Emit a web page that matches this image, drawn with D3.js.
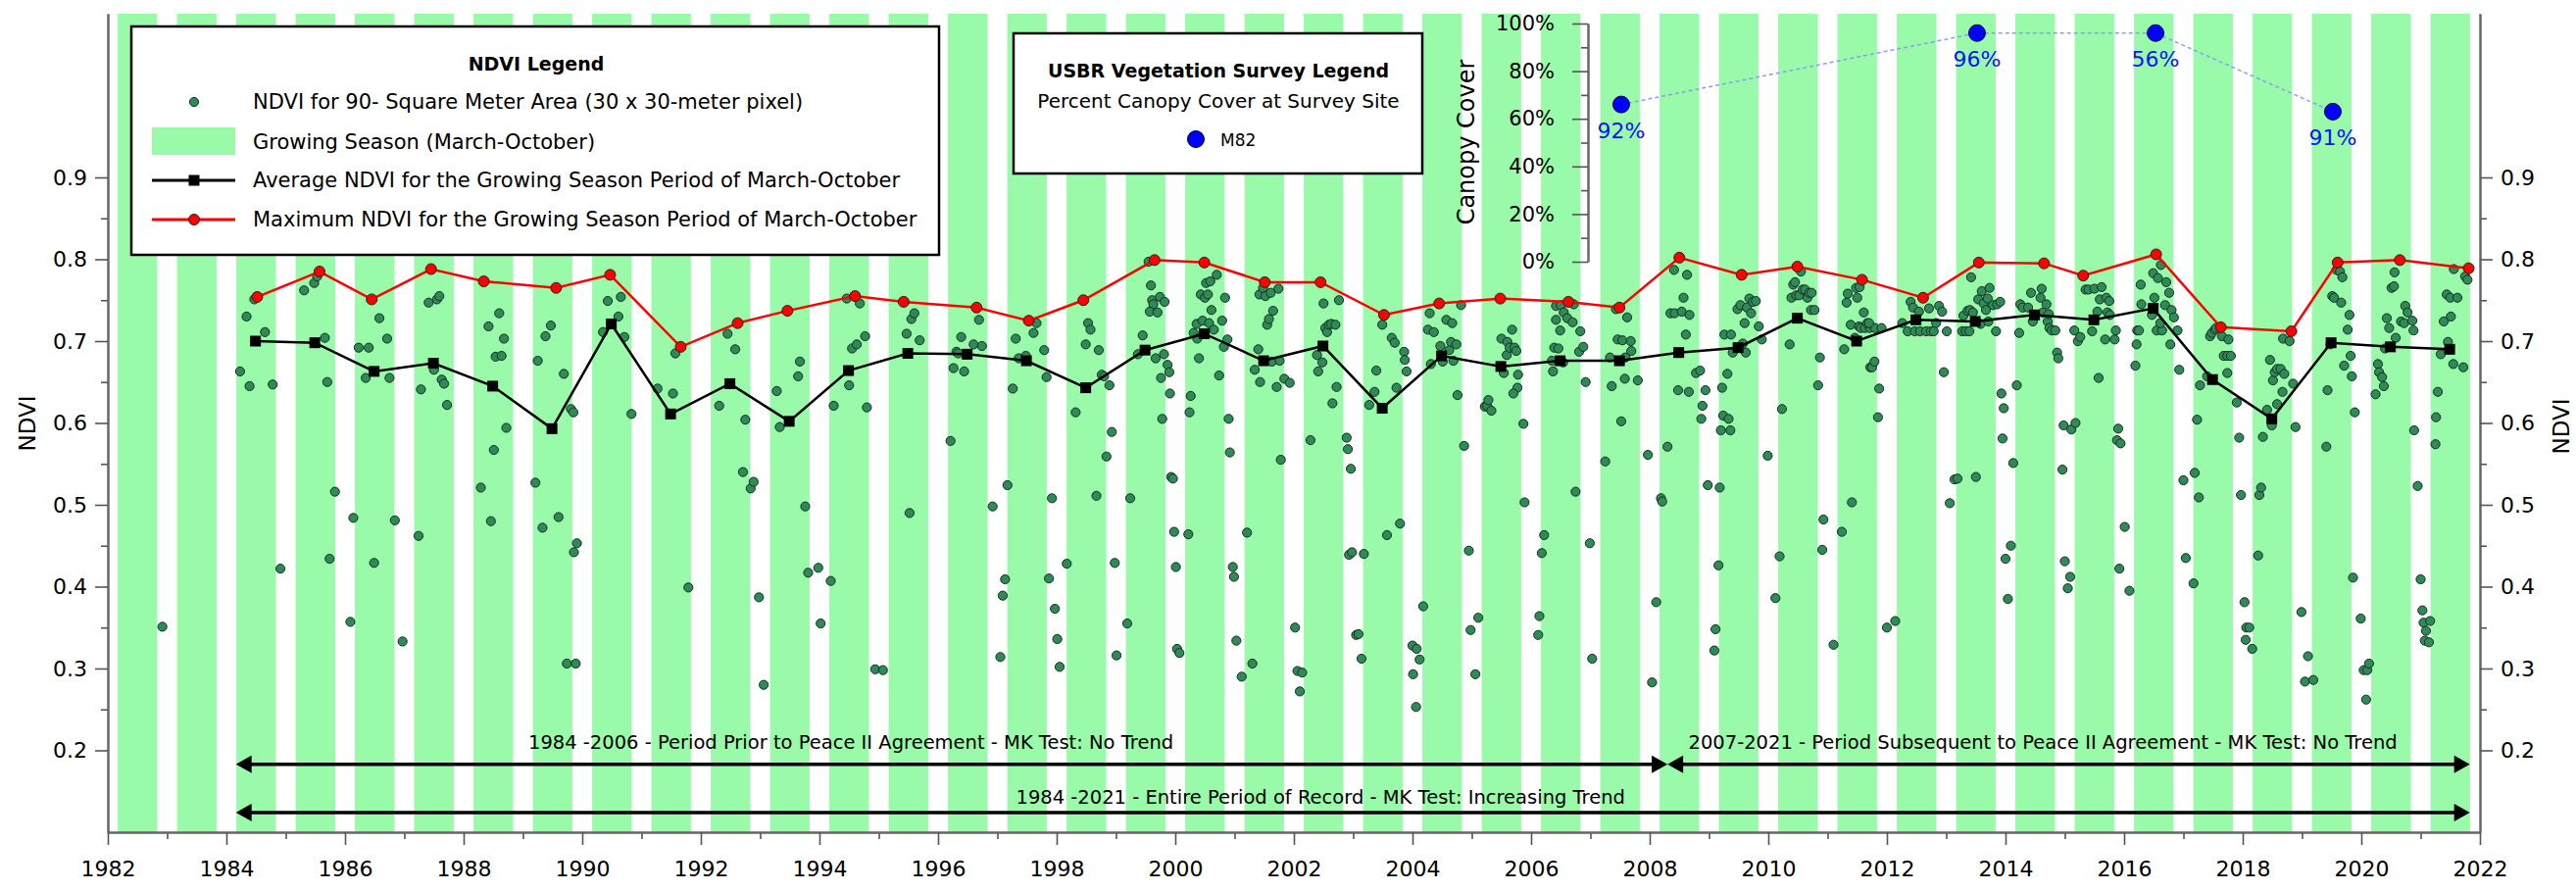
<!DOCTYPE html>
<html>
<head>
<meta charset="utf-8">
<script src="https://cdn.jsdelivr.net/npm/d3@7"></script>
<style>
  html, body { margin: 0; padding: 0; background: #fff; }
  svg { display: block; font-family: "DejaVu Sans", Verdana, sans-serif; }
</style>
</head>
<body>
<script>
// ---------------- DATA ----------------
const seasonYears = d3.range(1982, 2022);          // growing-season bands (March-October)
const seasonStartMonth = 3, seasonEndMonth = 10;

const years = d3.range(1984, 2022);
const avgNDVI = [0.700,0.698,0.663,0.673,0.645,0.593,0.721,0.611,0.648,0.602,
                 0.664,0.685,0.684,0.676,0.643,0.689,0.709,0.676,0.694,0.618,
                 0.682,0.669,0.676,0.676,0.686,0.692,0.728,0.700,0.726,0.724,
                 0.732,0.726,0.740,0.653,0.605,0.698,0.693,0.690];
const maxDate = [1984.52,1985.57,1986.45,1987.45,1988.34,1989.56,1990.47,1991.66,1992.62,1993.46,
                 1994.60,1995.42,1996.65,1997.53,1998.45,1999.65,2000.49,2001.51,2002.45,2003.52,
                 2004.45,2005.48,2006.63,2007.49,2008.50,2009.55,2010.49,2011.58,2012.61,2013.55,
                 2014.65,2015.31,2016.54,2017.63,2018.82,2019.60,2020.65,2021.81];
const maxNDVI = [0.754,0.785,0.751,0.788,0.773,0.765,0.781,0.693,0.722,0.737,
                 0.755,0.748,0.741,0.725,0.750,0.799,0.796,0.772,0.772,0.732,
                 0.746,0.752,0.748,0.741,0.802,0.781,0.791,0.775,0.753,0.796,
                 0.795,0.780,0.806,0.717,0.712,0.796,0.799,0.789];

// individual pixel observations [decimal year, NDVI]
const ndviObs = [
[1982.92,0.351],[1984.23,0.663],[1984.34,0.730],[1984.39,0.645],[1984.47,0.751],[1984.65,0.711],[1984.78,0.647],[1984.91,0.422],
[1985.31,0.762],[1985.48,0.771],[1985.53,0.779],[1985.66,0.704],[1985.70,0.650],[1985.74,0.434],[1985.83,0.516],
[1986.09,0.357],[1986.14,0.484],[1986.23,0.692],[1986.35,0.655],[1986.40,0.692],[1986.49,0.429],[1986.58,0.728],[1986.71,0.703],[1986.75,0.655],[1986.84,0.481],[1986.97,0.333],
[1987.24,0.462],[1987.28,0.641],[1987.41,0.747],[1987.50,0.665],[1987.55,0.751],[1987.59,0.755],[1987.63,0.653],[1987.67,0.648],[1987.72,0.622],
[1988.29,0.521],[1988.42,0.718],[1988.46,0.480],[1988.51,0.567],[1988.54,0.681],[1988.60,0.734],[1988.64,0.682],[1988.68,0.703],[1988.72,0.594],
[1989.21,0.527],[1989.25,0.676],[1989.33,0.472],[1989.38,0.706],[1989.47,0.719],[1989.60,0.485],[1989.69,0.660],[1989.74,0.306],[1989.81,0.617],[1989.85,0.613],[1989.86,0.442],[1989.89,0.306],[1989.91,0.453],
[1990.35,0.711],[1990.43,0.749],[1990.61,0.730],[1990.65,0.754],[1990.71,0.705],[1990.83,0.611],
[1991.27,0.642],[1991.53,0.636],[1991.57,0.685],[1991.79,0.399],
[1992.31,0.621],[1992.45,0.709],[1992.58,0.690],[1992.71,0.540],[1992.75,0.604],[1992.84,0.520],[1992.89,0.528],[1992.98,0.387],
[1993.06,0.280],[1993.28,0.639],[1993.33,0.595],[1993.64,0.657],[1993.67,0.675],[1993.76,0.498],[1993.81,0.417],[1993.98,0.423],
[1994.02,0.355],[1994.19,0.407],[1994.24,0.621],[1994.46,0.752],[1994.50,0.646],[1994.55,0.691],[1994.63,0.696],[1994.68,0.746],[1994.77,0.706],[1994.80,0.619],[1994.94,0.299],
[1995.07,0.298],[1995.47,0.709],[1995.52,0.490],[1995.55,0.727],[1995.60,0.734],[1995.69,0.701],
[1996.21,0.578],[1996.26,0.667],[1996.31,0.687],[1996.34,0.685],[1996.39,0.705],[1996.44,0.663],[1996.60,0.696],[1996.69,0.726],[1996.74,0.694],[1996.92,0.498],
[1997.05,0.314],[1997.09,0.389],[1997.13,0.409],[1997.17,0.524],[1997.26,0.642],[1997.31,0.703],[1997.36,0.679],[1997.48,0.682],[1997.61,0.710],[1997.66,0.722],[1997.79,0.689],[1997.83,0.656],[1997.87,0.410],[1997.92,0.508],[1997.97,0.373],
[1998.01,0.336],[1998.05,0.302],[1998.17,0.428],[1998.32,0.613],[1998.49,0.696],[1998.53,0.722],[1998.57,0.714],[1998.67,0.511],[1998.71,0.689],[1998.76,0.659],[1998.80,0.657],[1998.84,0.559],[1998.89,0.646],[1998.93,0.589],[1998.98,0.429],
[1999.01,0.316],[1999.19,0.355],[1999.24,0.508],[1999.37,0.684],[1999.45,0.707],[1999.55,0.797],[1999.59,0.768],[1999.61,0.750],[1999.63,0.745],[1999.57,0.736],[1999.70,0.735],[1999.74,0.754],[1999.82,0.748],[1999.67,0.679],[1999.81,0.684],[1999.87,0.671],[1999.90,0.662],[1999.76,0.655],[1999.91,0.636],[1999.78,0.605],[1999.93,0.534],[1999.96,0.532],[1999.98,0.467],
[2000.01,0.424],[2000.03,0.324],[2000.07,0.319],[2000.22,0.464],[2000.24,0.613],[2000.26,0.633],[2000.31,0.710],[2000.36,0.721],[2000.37,0.703],[2000.40,0.679],[2000.43,0.757],[2000.46,0.725],[2000.50,0.753],[2000.52,0.771],[2000.55,0.757],[2000.57,0.722],[2000.59,0.773],[2000.61,0.738],[2000.65,0.714],[2000.70,0.781],[2000.74,0.658],[2000.79,0.725],[2000.82,0.693],[2000.84,0.753],[2000.88,0.702],[2000.90,0.605],[2000.92,0.564],[2000.97,0.424],[2000.99,0.412],
[2001.03,0.334],[2001.12,0.290],[2001.21,0.466],[2001.30,0.306],[2001.34,0.665],[2001.40,0.690],[2001.42,0.757],[2001.43,0.650],[2001.48,0.765],[2001.52,0.755],[2001.55,0.720],[2001.58,0.727],[2001.61,0.759],[2001.65,0.737],[2001.63,0.675],[2001.71,0.644],[2001.74,0.764],[2001.76,0.676],[2001.78,0.555],[2001.84,0.654],[2001.93,0.649],
[2002.02,0.350],[2002.06,0.297],[2002.14,0.295],[2002.10,0.272],[2002.28,0.579],[2002.39,0.683],[2002.41,0.663],[2002.48,0.674],[2002.50,0.746],[2002.53,0.716],[2002.56,0.711],[2002.59,0.720],[2002.63,0.721],[2002.65,0.624],[2002.70,0.720],[2002.72,0.644],[2002.76,0.750],[2002.89,0.582],[2002.91,0.568],[2002.93,0.439],[2002.98,0.442],[2002.96,0.544],
[2003.05,0.341],[2003.09,0.342],[2003.14,0.312],[2003.18,0.440],[2003.27,0.622],[2003.36,0.638],[2003.39,0.664],[2003.49,0.720],[2003.57,0.463],[2003.65,0.704],[2003.70,0.698],[2003.73,0.643],[2003.79,0.477],[2003.86,0.687],[2003.87,0.677],[2003.90,0.663],
[2004.00,0.328],[2004.07,0.324],[2004.01,0.293],[2004.06,0.253],[2004.12,0.311],[2004.18,0.376],[2004.26,0.714],[2004.29,0.734],[2004.31,0.672],[2004.36,0.711],[2004.47,0.694],[2004.51,0.675],[2004.57,0.726],[2004.62,0.689],[2004.65,0.699],[2004.67,0.722],[2004.69,0.676],[2004.74,0.696],[2004.76,0.634],[2004.82,0.744],[2004.87,0.572],[2004.95,0.444],[2004.98,0.347],
[2005.06,0.293],[2005.11,0.362],[2005.22,0.620],[2005.26,0.621],[2005.33,0.615],[2005.28,0.628],[2005.50,0.703],[2005.54,0.661],[2005.59,0.683],[2005.60,0.699],[2005.64,0.692],[2005.68,0.714],[2005.72,0.692],[2005.75,0.688],[2005.77,0.643],[2005.70,0.636],[2005.78,0.659],[2005.87,0.599],[2005.89,0.503],
[2006.12,0.341],[2006.14,0.364],[2006.18,0.441],[2006.22,0.463],[2006.37,0.663],[2006.35,0.676],[2006.39,0.692],[2006.42,0.726],[2006.46,0.691],[2006.42,0.743],[2006.50,0.744],[2006.49,0.713],[2006.54,0.674],[2006.55,0.735],[2006.61,0.728],[2006.70,0.723],[2006.72,0.745],[2006.75,0.516],[2006.81,0.687],[2006.83,0.712],[2006.88,0.693],[2006.92,0.650],[2006.99,0.453],
[2007.03,0.312],[2007.25,0.553],[2007.33,0.680],[2007.36,0.645],[2007.43,0.739],[2007.46,0.702],[2007.52,0.602],[2007.54,0.701],[2007.58,0.654],[2007.59,0.680],[2007.62,0.729],[2007.68,0.700],[2007.69,0.688],[2007.80,0.652],[2007.97,0.561],
[2008.04,0.283],[2008.11,0.381],[2008.19,0.508],[2008.21,0.504],[2008.30,0.571],[2008.35,0.734],[2008.41,0.787],[2008.42,0.734],[2008.48,0.640],[2008.54,0.736],[2008.57,0.753],[2008.61,0.708],[2008.63,0.781],[2008.66,0.638],[2008.67,0.732],[2008.78,0.661],[2008.85,0.664],[2008.89,0.621],[2008.87,0.605],[2008.94,0.640],[2008.98,0.524],
[2009.09,0.322],[2009.11,0.348],[2009.16,0.426],[2009.18,0.521],[2009.20,0.591],[2009.36,0.591],[2009.22,0.643],[2009.24,0.609],[2009.33,0.605],[2009.26,0.708],[2009.37,0.708],[2009.31,0.660],[2009.40,0.686],[2009.48,0.739],[2009.53,0.744],[2009.57,0.697],[2009.60,0.722],[2009.62,0.686],[2009.64,0.741],[2009.68,0.752],[2009.71,0.734],[2009.74,0.748],[2009.79,0.749],[2009.84,0.718],[2009.89,0.702],[2009.99,0.560],
[2010.12,0.386],[2010.19,0.437],[2010.23,0.617],[2010.36,0.696],[2010.39,0.753],[2010.42,0.769],[2010.45,0.772],[2010.47,0.756],[2010.52,0.756],[2010.55,0.785],[2010.58,0.763],[2010.62,0.763],[2010.66,0.753],[2010.69,0.759],[2010.73,0.759],[2010.72,0.738],[2010.78,0.738],[2010.84,0.646],[2010.87,0.680],[2010.91,0.445],[2010.93,0.482],
[2011.10,0.329],[2011.24,0.467],[2011.28,0.690],[2011.32,0.747],[2011.34,0.758],[2011.39,0.720],[2011.41,0.503],[2011.46,0.704],[2011.48,0.765],[2011.50,0.753],[2011.53,0.718],[2011.54,0.766],[2011.56,0.716],[2011.63,0.716],[2011.71,0.716],[2011.80,0.716],[2011.91,0.716],[2011.61,0.735],[2011.67,0.722],[2011.70,0.722],[2011.72,0.668],[2011.75,0.668],[2011.79,0.675],[2011.87,0.642],[2011.85,0.607],
[2012.00,0.350],[2012.14,0.358],[2012.26,0.722],[2012.35,0.712],[2012.47,0.712],[2012.56,0.712],[2012.66,0.712],[2012.74,0.712],[2012.79,0.712],[2012.40,0.748],[2012.44,0.741],[2012.54,0.736],[2012.71,0.740],[2012.83,0.722],[2012.88,0.743],[2012.93,0.736],[2012.96,0.662],
[2013.01,0.712],[2013.06,0.502],[2013.14,0.531],[2013.19,0.532],[2013.27,0.712],[2013.33,0.712],[2013.39,0.712],[2013.29,0.731],[2013.36,0.737],[2013.40,0.738],[2013.45,0.735],[2013.42,0.778],[2013.50,0.534],[2013.54,0.751],[2013.58,0.721],[2013.60,0.761],[2013.63,0.746],[2013.67,0.738],[2013.70,0.752],[2013.71,0.724],[2013.73,0.765],
[2013.79,0.744],[2013.86,0.745],[2013.91,0.748],[2013.84,0.712],[2013.93,0.636],[2013.97,0.618],[2013.95,0.581],
[2014.13,0.551],[2014.19,0.646],[2014.09,0.450],[2014.00,0.434],[2014.04,0.385],[2014.23,0.710],[2014.25,0.745],[2014.29,0.741],[2014.38,0.741],[2014.43,0.759],[2014.46,0.724],[2014.59,0.753],[2014.61,0.764],[2014.63,0.735],[2014.69,0.745],[2014.71,0.724],[2014.73,0.733],[2014.74,0.716],[2014.78,0.713],[2014.84,0.713],[2014.87,0.686],[2014.89,0.679],[2014.96,0.543],[2014.98,0.597],
[2015.00,0.431],[2015.09,0.412],[2015.11,0.592],[2015.05,0.398],[2015.18,0.600],[2015.16,0.713],[2015.22,0.700],[2015.26,0.705],[2015.35,0.763],[2015.40,0.763],[2015.46,0.712],[2015.50,0.764],[2015.55,0.736],[2015.57,0.655],[2015.59,0.751],[2015.62,0.766],[2015.70,0.753],[2015.75,0.749],[2015.72,0.735],[2015.76,0.732],[2015.68,0.702],[2015.84,0.702],[2015.86,0.713],[2015.90,0.593],[2015.88,0.579],[2015.94,0.575],[2015.92,0.422],
[2016.01,0.473],[2016.09,0.395],[2016.19,0.670],[2016.21,0.696],[2016.22,0.713],[2016.25,0.713],[2016.28,0.769],[2016.29,0.745],[2016.47,0.732],[2016.49,0.783],[2016.51,0.753],[2016.55,0.713],[2016.64,0.713],[2016.57,0.777],[2016.61,0.722],[2016.62,0.793],[2016.69,0.744],[2016.71,0.772],[2016.76,0.759],[2016.80,0.738],[2016.84,0.729],[2016.90,0.713],[2016.78,0.696],[2016.93,0.665],
[2017.00,0.530],[2017.04,0.435],[2017.17,0.404],[2017.19,0.539],[2017.23,0.604],[2017.26,0.509],[2017.28,0.646],[2017.40,0.657],[2017.45,0.706],[2017.48,0.710],[2017.53,0.714],[2017.55,0.716],[2017.65,0.706],[2017.68,0.682],[2017.74,0.682],[2017.80,0.682],[2017.76,0.702],[2017.74,0.661],[2017.90,0.625],[2017.94,0.582],[2017.97,0.512],
[2018.03,0.381],[2018.06,0.350],[2018.11,0.350],[2018.05,0.335],[2018.16,0.324],[2018.26,0.438],[2018.28,0.512],[2018.31,0.521],[2018.34,0.583],[2018.41,0.616],[2018.49,0.597],[2018.46,0.677],[2018.51,0.652],[2018.54,0.662],[2018.58,0.666],[2018.64,0.666],[2018.67,0.638],[2018.58,0.623],[2018.68,0.703],[2018.79,0.700],[2018.70,0.660],[2018.85,0.648],[2018.89,0.595],[2018.99,0.369],
[2019.10,0.315],[2019.05,0.284],[2019.19,0.286],[2019.41,0.571],[2019.43,0.640],[2019.48,0.696],[2019.51,0.755],[2019.54,0.753],[2019.58,0.787],[2019.64,0.785],[2019.68,0.778],[2019.66,0.747],[2019.71,0.670],[2019.77,0.714],[2019.80,0.732],[2019.82,0.682],[2019.84,0.657],[2019.86,0.411],[2019.89,0.613],[2019.99,0.361],
[2020.04,0.298],[2020.10,0.298],[2020.13,0.306],[2020.08,0.262],[2020.24,0.635],[2020.28,0.672],[2020.30,0.662],[2020.35,0.656],[2020.38,0.645],[2020.40,0.691],[2020.43,0.728],[2020.47,0.716],[2020.51,0.765],[2020.55,0.767],[2020.56,0.784],[2020.58,0.704],[2020.67,0.724],[2020.72,0.722],[2020.74,0.743],[2020.78,0.735],[2020.86,0.725],[2020.88,0.713],[2020.89,0.591],[2020.95,0.523],
[2021.00,0.409],[2021.03,0.371],[2021.05,0.356],[2021.16,0.358],[2021.09,0.346],[2021.07,0.334],[2021.14,0.332],[2021.25,0.574],[2021.26,0.607],[2021.29,0.638],[2021.34,0.684],[2021.39,0.724],[2021.44,0.757],[2021.46,0.699],[2021.50,0.753],[2021.62,0.753],[2021.51,0.730],[2021.55,0.672],[2021.56,0.788],[2021.72,0.668],[2021.75,0.779],[2021.79,0.775]
];

// USBR vegetation survey (site M82)
const surveyDate = [2007.52, 2013.52, 2016.53, 2019.52];
const surveyCover = [66, 96, 96, 63];
const surveyLabel = ["92%", "96%", "56%", "91%"];

// tick values
const ndviTicks = [0.2,0.3,0.4,0.5,0.6,0.7,0.8,0.9];
const ndviMinorTicks = [0.25,0.35,0.45,0.55,0.65,0.75,0.85];
const yearTicks = d3.range(1982, 2023, 2);
const yearMinorTicks = d3.range(1983, 2022, 2);
const coverTicks = [0,20,40,60,80,100];
const coverMinorTicks = [10,30,50,70,90];

// trend annotations
const trendArrows = [
  {from: 1984.16, to: 2008.30, level: 0.183, text: "1984 -2006 - Period Prior to Peace II Agreement - MK Test: No Trend", textAt: 1994.53, textLevel: 0.209},
  {from: 2008.30, to: 2021.83, level: 0.183, text: "2007-2021 - Period Subsequent to Peace II Agreement - MK Test: No Trend", textAt: 2014.63, textLevel: 0.209},
  {from: 1984.16, to: 2021.83, level: 0.124, text: "1984 -2021 - Entire Period of Record - MK Test: Increasing Trend", textAt: 2002.45, textLevel: 0.143}
];

// ---------------- CHART ----------------
const W = 2628, H = 909;
const FONT = '"DejaVu Sans", Verdana, sans-serif';
const GREEN = "#99fbaa";
const DOT = "#2e8b57";

const svg = d3.select("body").append("svg").attr("width", W).attr("height", H);

const x = d3.scaleLinear().domain([1982, 2022]).range([110, 2530]);
const y = d3.scaleLinear().domain([0.1, 1.1]).range([849, 14]);
const yc = d3.scaleLinear().domain([0, 100]).range([267, 24]);

// growing season bands
svg.append("g").selectAll("rect").data(seasonYears).join("rect")
  .attr("x", d => x(d + (seasonStartMonth - 1) / 12))
  .attr("width", d => x(d + seasonEndMonth / 12) - x(d + (seasonStartMonth - 1) / 12))
  .attr("y", y(1.1)).attr("height", y(0.1) - y(1.1))
  .attr("fill", GREEN);

// trend arrows
const arrG = svg.append("g");
function head(xTip, yy, dir) {
  const L = 16, h = 9;
  return `M${xTip},${yy} L${xTip - dir * L},${yy - h} L${xTip - dir * L},${yy + h} Z`;
}
trendArrows.forEach(a => {
  const yy = y(a.level);
  arrG.append("line").attr("x1", x(a.from) + 8).attr("x2", x(a.to) - 8)
    .attr("y1", yy).attr("y2", yy).attr("stroke", "#000").attr("stroke-width", 3.5);
  arrG.append("path").attr("d", head(x(a.from), yy, -1)).attr("fill", "#000");
  arrG.append("path").attr("d", head(x(a.to), yy, 1)).attr("fill", "#000");
  arrG.append("text").attr("x", x(a.textAt)).attr("y", y(a.textLevel))
    .attr("text-anchor", "middle").attr("dominant-baseline", "central")
    .attr("font-size", 19.5).attr("font-family", FONT).text(a.text);
});

// scatter observations
svg.append("g").selectAll("circle").data(ndviObs).join("circle")
  .attr("cx", d => x(d[0])).attr("cy", d => y(d[1])).attr("r", 4.6)
  .attr("fill", DOT).attr("stroke", "#1b2b22").attr("stroke-width", 1);

// average line
const avgData = years.map((yr, i) => [yr + 0.49, avgNDVI[i]]);
svg.append("path").datum(avgData)
  .attr("d", d3.line().x(d => x(d[0])).y(d => y(d[1])))
  .attr("fill", "none").attr("stroke", "#000").attr("stroke-width", 2.5);
svg.append("g").selectAll("rect").data(avgData).join("rect")
  .attr("x", d => x(d[0]) - 5.5).attr("y", d => y(d[1]) - 5.5)
  .attr("width", 11).attr("height", 11).attr("fill", "#000");

// maximum line
const maxData = maxDate.map((d, i) => [d, maxNDVI[i]]);
svg.append("path").datum(maxData)
  .attr("d", d3.line().x(d => x(d[0])).y(d => y(d[1])))
  .attr("fill", "none").attr("stroke", "#ff0000").attr("stroke-width", 2.5);
svg.append("g").selectAll("circle").data(maxData).join("circle")
  .attr("cx", d => x(d[0])).attr("cy", d => y(d[1])).attr("r", 5.5)
  .attr("fill", "#ff0000").attr("stroke", "#222").attr("stroke-width", 1);

// ---- axes ----
function styleAxis(g, size) {
  g.selectAll("path.domain").attr("stroke", "#666").attr("stroke-width", 2);
  g.selectAll(".tick line").attr("stroke", "#555").attr("stroke-width", 1.6);
  g.selectAll(".tick text").attr("font-family", FONT).attr("font-size", size).attr("fill", "#000");
}
const fmt1 = d3.format(".1f");

// bottom
const gxMinor = svg.append("g").attr("transform", `translate(0,${y(0.1)})`)
  .call(d3.axisBottom(x).tickValues(yearMinorTicks).tickSize(7).tickSizeOuter(0).tickFormat(""));
styleAxis(gxMinor, 22);
const gx = svg.append("g").attr("transform", `translate(0,${y(0.1)})`)
  .call(d3.axisBottom(x).tickValues(yearTicks).tickSize(13).tickPadding(16).tickSizeOuter(0).tickFormat(d3.format("d")));
styleAxis(gx, 22);

// left
const gyMinor = svg.append("g").attr("transform", `translate(${x(1982)},0)`)
  .call(d3.axisLeft(y).tickValues(ndviMinorTicks).tickSize(7).tickSizeOuter(0).tickFormat(""));
styleAxis(gyMinor, 22);
const gy = svg.append("g").attr("transform", `translate(${x(1982)},0)`)
  .call(d3.axisLeft(y).tickValues(ndviTicks).tickSize(13).tickPadding(8).tickSizeOuter(0).tickFormat(fmt1));
styleAxis(gy, 22);

// right
const gyrMinor = svg.append("g").attr("transform", `translate(${x(2022)},0)`)
  .call(d3.axisRight(y).tickValues(ndviMinorTicks).tickSize(7).tickSizeOuter(0).tickFormat(""));
styleAxis(gyrMinor, 22);
const gyr = svg.append("g").attr("transform", `translate(${x(2022)},0)`)
  .call(d3.axisRight(y).tickValues(ndviTicks).tickSize(13).tickPadding(8).tickSizeOuter(0).tickFormat(fmt1));
styleAxis(gyr, 22);

// axis titles
svg.append("text").attr("transform", "translate(28,432) rotate(-90)")
  .attr("text-anchor", "middle").attr("dominant-baseline", "central")
  .attr("font-family", FONT).attr("font-size", 23).text("NDVI");
svg.append("text").attr("transform", "translate(2613,435) rotate(-90)")
  .attr("text-anchor", "middle").attr("dominant-baseline", "central")
  .attr("font-family", FONT).attr("font-size", 23).text("NDVI");

// ---- inset canopy cover ----
const inset = svg.append("g");
const coverData = surveyDate.map((d, i) => ({d, v: surveyCover[i], lab: surveyLabel[i]}));
inset.append("path").datum(coverData)
  .attr("d", d3.line().x(p => x(p.d)).y(p => yc(p.v)))
  .attr("fill", "none").attr("stroke", "#8d9cf0").attr("stroke-width", 1.5).attr("stroke-dasharray", "4,3");
inset.selectAll("circle").data(coverData).join("circle")
  .attr("cx", p => x(p.d)).attr("cy", p => yc(p.v)).attr("r", 8.5)
  .attr("fill", "#0000ff").attr("stroke", "#000033").attr("stroke-width", 1);
inset.selectAll("text.lab").data(coverData).join("text").attr("class", "lab")
  .attr("x", p => x(p.d)).attr("y", p => yc(p.v) + 27)
  .attr("text-anchor", "middle").attr("dominant-baseline", "central")
  .attr("font-family", FONT).attr("font-size", 22).attr("fill", "#1010ff").text(p => p.lab);

const gcMinor = svg.append("g").attr("transform", "translate(1620,0)")
  .call(d3.axisLeft(yc).tickValues(coverMinorTicks).tickSize(7).tickSizeOuter(0).tickFormat(""));
styleAxis(gcMinor, 21);
const gc = svg.append("g").attr("transform", "translate(1620,0)")
  .call(d3.axisLeft(yc).tickValues(coverTicks).tickSize(16).tickPadding(18).tickSizeOuter(0).tickFormat(d => d + "%"));
styleAxis(gc, 21);
svg.append("text").attr("transform", "translate(1496,145) rotate(-90)")
  .attr("text-anchor", "middle").attr("dominant-baseline", "central")
  .attr("font-family", FONT).attr("font-size", 24).text("Canopy Cover");

// ---- NDVI legend ----
const lg = svg.append("g");
lg.append("rect").attr("x", 134).attr("y", 27).attr("width", 824).attr("height", 233)
  .attr("fill", "#fff").attr("stroke", "#000").attr("stroke-width", 2.5);
lg.append("text").attr("x", 547).attr("y", 65).attr("text-anchor", "middle").attr("dominant-baseline", "central")
  .attr("font-family", FONT).attr("font-size", 19).attr("font-weight", "bold").text("NDVI Legend");
const items = [
  {yy: 104, t: "NDVI for 90- Square Meter Area (30 x 30-meter pixel)"},
  {yy: 145, t: "Growing Season (March-October)"},
  {yy: 184, t: "Average NDVI for the Growing Season Period of March-October"},
  {yy: 224, t: "Maximum NDVI for the Growing Season Period of March-October"}
];
items.forEach(it => lg.append("text").attr("x", 258).attr("y", it.yy).attr("dominant-baseline", "central")
  .attr("font-family", FONT).attr("font-size", 21).text(it.t));
lg.append("circle").attr("cx", 198).attr("cy", 104).attr("r", 4.6).attr("fill", DOT).attr("stroke", "#1b2b22");
lg.append("rect").attr("x", 155).attr("y", 130).attr("width", 85).attr("height", 28).attr("fill", GREEN);
lg.append("line").attr("x1", 155).attr("x2", 240).attr("y1", 184).attr("y2", 184).attr("stroke", "#000").attr("stroke-width", 3);
lg.append("rect").attr("x", 192.5).attr("y", 178.5).attr("width", 11).attr("height", 11).attr("fill", "#000");
lg.append("line").attr("x1", 155).attr("x2", 240).attr("y1", 224).attr("y2", 224).attr("stroke", "#ff0000").attr("stroke-width", 3);
lg.append("circle").attr("cx", 198).attr("cy", 224).attr("r", 5.5).attr("fill", "#ff0000").attr("stroke", "#222");

// ---- USBR legend ----
const lg2 = svg.append("g");
lg2.append("rect").attr("x", 1034).attr("y", 34).attr("width", 417).attr("height", 143)
  .attr("fill", "#fff").attr("stroke", "#000").attr("stroke-width", 2.5);
lg2.append("text").attr("x", 1243).attr("y", 72).attr("text-anchor", "middle").attr("dominant-baseline", "central")
  .attr("font-family", FONT).attr("font-size", 19).attr("font-weight", "bold").text("USBR Vegetation Survey Legend");
lg2.append("text").attr("x", 1243).attr("y", 103).attr("text-anchor", "middle").attr("dominant-baseline", "central")
  .attr("font-family", FONT).attr("font-size", 20).text("Percent Canopy Cover at Survey Site");
lg2.append("circle").attr("cx", 1220).attr("cy", 142).attr("r", 8.5).attr("fill", "#0000ff").attr("stroke", "#000033");
lg2.append("text").attr("x", 1245).attr("y", 143).attr("dominant-baseline", "central")
  .attr("font-family", FONT).attr("font-size", 17).text("M82");
</script>
</body>
</html>
